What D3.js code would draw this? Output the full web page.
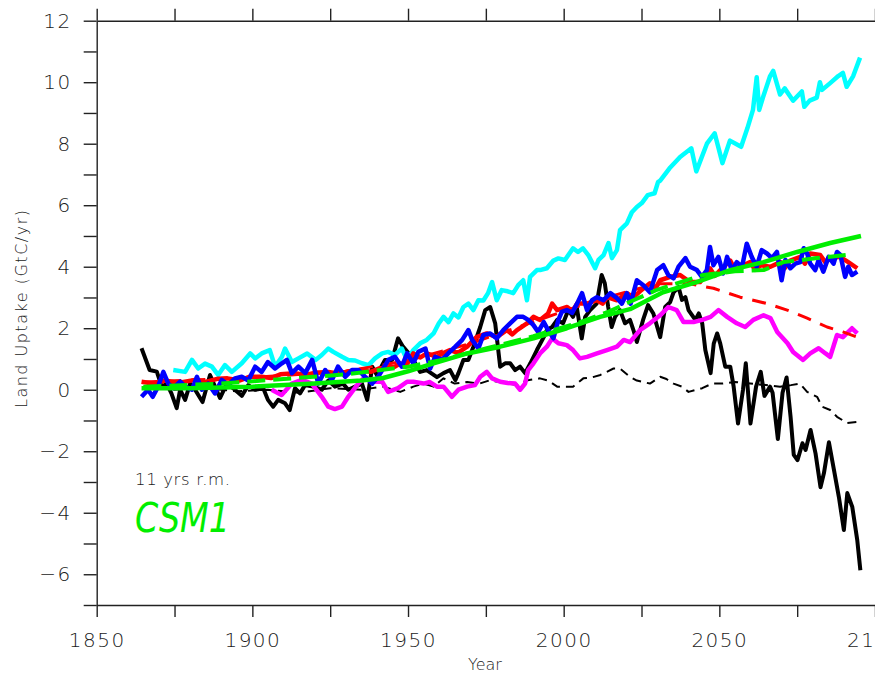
<!DOCTYPE html>
<html>
<head>
<meta charset="utf-8">
<script src="https://cdn.jsdelivr.net/npm/d3@7"></script>
<style>
  body { margin: 0; background: #fff; overflow: hidden; }
  svg { display: block; }
  text { font-family: "DejaVu Sans", sans-serif; fill: #1a1a1a; }
</style>
</head>
<body>
<svg id="the-svg" width="875" height="673"></svg>
<script>
// tick values
var yearTicks = d3.range(1850, 2101, 25);
var uptakeTicks = d3.range(-7, 13, 1);

// series, [year, GtC/yr]
var blackRun = [[1864.4,1.35],[1867,0.64],[1869.3,0.59],[1870.9,0.1],[1872.5,0.2],[1874,-0.12],[1875.7,-0.6],[1876.8,0],[1878.4,-0.33],[1880,0.2],[1881.6,0],[1884,-0.4],[1886.4,0.48],[1888,0.1],[1889.6,-0.27],[1891.8,0.2],[1894.4,0],[1896.6,-0.2],[1898.7,0.15],[1900.9,0],[1903.5,0.05],[1905,-0.33],[1906.7,-0.55],[1908.3,-0.33],[1910.5,-0.44],[1912,-0.66],[1913.7,0.05],[1915.3,-0.12],[1916.9,0.15],[1919.5,0.1],[1922.3,0],[1924.4,0.3],[1926.5,0.1],[1929.1,0.2],[1930.8,0],[1933,0.1],[1935.2,0.2],[1936.9,-0.33],[1938.5,0.75],[1940,0.48],[1942.6,0.97],[1944.9,0.97],[1946.8,1.67],[1948.4,1.4],[1950.7,1.13],[1951.7,0.97],[1953.9,0.58],[1956,0.64],[1959.3,0.41],[1961.4,0.54],[1963.5,0.64],[1965.2,0.31],[1966.2,0.54],[1967.8,0.97],[1969.4,0.97],[1971,1.4],[1973.2,2.04],[1974.8,2.59],[1976.4,2.69],[1978,2.16],[1979.6,0.75],[1981.2,0.86],[1982.8,0.86],[1984.4,0.64],[1986,0.75],[1987.6,0.54],[1989.3,0.86],[1991.4,1.29],[1993.6,1.71],[1994.6,1.94],[1996.3,2.04],[1997.9,2.27],[1999.8,2.16],[2001.5,2.59],[2003,2.37],[2004.2,2.69],[2005.8,1.67],[2006.9,2.37],[2008.5,2.59],[2010.6,2.8],[2012.2,3.73],[2013.2,3.46],[2014.3,2.69],[2015.4,2.04],[2016.5,2.37],[2018.1,2.59],[2019.7,2.16],[2021.3,2.27],[2022.4,1.94],[2023.5,1.55],[2025.5,2.27],[2027.1,2.75],[2028.8,2.48],[2031,1.71],[2032.6,2.69],[2034.2,2.85],[2035.3,3.17],[2036.9,3.34],[2038,2.92],[2039.1,3.01],[2040.1,2.59],[2042.3,2.27],[2043.4,2.48],[2044.5,2.16],[2045.5,1.29],[2047.2,0.54],[2048.2,1.5],[2049.3,1.83],[2050.3,1.5],[2051.9,0.75],[2053.5,0.75],[2054.6,0.1],[2056,-1.1],[2057.6,0],[2058.5,0.86],[2060,-1.1],[2061.8,0.1],[2063.3,0.58],[2064.5,-0.2],[2066.3,0.1],[2067.1,-0.1],[2068.8,-1.6],[2070.3,-0.1],[2071.6,0.4],[2072.9,-0.9],[2073.9,-2.12],[2075.1,-2.29],[2076.7,-1.74],[2077.7,-1.96],[2079.3,-1.31],[2080.9,-2.07],[2082.5,-3.17],[2083.6,-2.71],[2085.2,-1.71],[2086.8,-2.6],[2088.4,-3.49],[2090,-4.56],[2091.1,-3.36],[2092.7,-3.81],[2094.3,-4.89],[2095.3,-5.87]];

var blackDash = [[1865,0.1],[1875,0],[1885,0.05],[1895,-0.05],[1905,0],[1915,-0.1],[1925,0.05],[1935,0],[1942,0.1],[1947.5,-0.07],[1951.7,0.1],[1955,0.2],[1958.2,0.1],[1961.4,0.37],[1965,0.2],[1969,0.25],[1973,0.2],[1976,0.3],[1979.6,0.25],[1985,0.15],[1988,0.3],[1992.4,0.37],[1995,0.3],[1997.9,0.1],[2003,0.1],[2006.3,0.37],[2009,0.4],[2011.8,0.48],[2016,0.69],[2018.1,0.69],[2021.3,0.42],[2023.5,0.3],[2027.7,0.2],[2031,0.42],[2033,0.35],[2035.3,0.2],[2038,0.1],[2040.1,-0.07],[2044.5,0.05],[2047.7,0.2],[2051.2,0.2],[2055,0.25],[2060,0.2],[2065,0.15],[2069.5,0.1],[2073,0.15],[2075.9,0.2],[2078.2,-0.07],[2081.4,-0.23],[2083,-0.55],[2085.6,-0.66],[2087.8,-0.88],[2091,-1.08],[2094.3,-1.05]];

var cyanRun = [[1874.6,0.64],[1878.4,0.58],[1880.6,0.97],[1882.6,0.69],[1884.8,0.85],[1887,0.75],[1889,0.48],[1891.2,0.8],[1893.4,0.58],[1896.6,0.86],[1899.3,1.18],[1900.9,1.02],[1903,1.18],[1905.6,1.29],[1907.3,0.75],[1909.5,1.07],[1910.5,1.34],[1912.7,0.9],[1914.8,1.02],[1917.6,1.18],[1920.3,0.97],[1922.3,1.13],[1924.4,1.34],[1926,1.23],[1928.8,1.07],[1930.8,0.97],[1933,0.95],[1935.2,0.86],[1937.3,0.8],[1939.4,1.02],[1941.7,1.18],[1943.6,1.23],[1945.8,1.13],[1948,1.34],[1949.7,0.97],[1951.7,1.29],[1953.9,1.51],[1956,1.62],[1958.2,1.83],[1959.9,2.16],[1961.4,2.37],[1963,2.2],[1964.6,2.48],[1966.2,2.35],[1967.8,2.69],[1969.4,2.8],[1971,2.59],[1972.6,2.91],[1974.2,2.9],[1975.7,3.14],[1977,3.5],[1978.5,2.91],[1980.1,3.24],[1982,3.2],[1983.8,3.14],[1985.4,3.4],[1987,3.56],[1988.2,2.91],[1989.2,3.67],[1991.4,3.89],[1992.4,3.89],[1994.6,3.95],[1996.7,4.2],[1998.3,4.27],[2000.4,4.22],[2003,4.6],[2004.6,4.48],[2006.2,4.6],[2007.9,4.38],[2010.1,3.95],[2011.2,4.22],[2012.8,4.38],[2014.4,4.77],[2015.5,4.28],[2017.1,4.54],[2018.1,5.19],[2020.3,5.41],[2021.9,5.77],[2023.5,5.94],[2025.1,6.07],[2027,6.33],[2029.2,6.39],[2030.3,6.75],[2031,6.8],[2034,7.2],[2037.4,7.57],[2041,7.85],[2042.6,7.1],[2046,8.0],[2048.5,8.34],[2051,7.37],[2053.4,8.1],[2057,7.9],[2059,8.5],[2060.8,9.1],[2062,10.16],[2062.8,9.1],[2064,9.5],[2066.3,10.2],[2067.3,10.37],[2069.5,9.6],[2071,9.8],[2073.7,9.4],[2076.5,9.7],[2077.3,9.2],[2079,9.4],[2081.3,9.5],[2082.3,10.0],[2083,9.75],[2085.6,9.97],[2088.2,10.2],[2089.7,10.3],[2090.9,9.85],[2093,10.2],[2095.2,10.8]];

var magentaRun = [[1906.2,0],[1909.4,-0.17],[1912.7,0.2],[1915.9,0.32],[1919.1,0.2],[1922.3,-0.23],[1924.4,-0.55],[1926.5,-0.63],[1928.8,-0.55],[1930.8,-0.23],[1934,0.2],[1936.2,0.42],[1938.5,0.26],[1941.7,0.26],[1943.6,-0.07],[1946.8,0.05],[1949.7,0.26],[1951.7,0.26],[1955,0.2],[1957,0.25],[1959.3,0.1],[1961.4,0.1],[1964.1,-0.23],[1966.2,0],[1969,0.1],[1971.5,0.15],[1973.2,0.42],[1975.3,0.58],[1977,0.37],[1979.6,0.26],[1982,0.22],[1984.4,0.2],[1986,0],[1987.6,0.2],[1988.6,0.64],[1990.3,0.86],[1992.4,1.18],[1994.6,1.4],[1996.3,1.67],[1998.3,1.51],[2001,1.45],[2003,1.29],[2005.2,1.02],[2007.5,1.07],[2010.7,1.18],[2013.9,1.29],[2017.1,1.4],[2019.3,1.62],[2021.3,1.55],[2024.5,1.94],[2027.7,2.16],[2031,2.42],[2033.6,2.69],[2036.3,2.59],[2038.5,2.2],[2041.7,2.2],[2044.5,2.27],[2047.2,2.37],[2049.7,2.59],[2052.5,2.37],[2055.6,2.16],[2058.3,2.04],[2060.9,2.27],[2064.2,2.42],[2066.4,2.33],[2068.6,1.88],[2071.9,1.51],[2073.7,1.23],[2076.9,0.97],[2079.2,1.18],[2081.9,1.35],[2084.1,1.18],[2085.6,1.07],[2087.8,1.78],[2089.7,1.71],[2092.6,2.0],[2094.3,1.83]];

var redRun = [[1864.4,0.26],[1868,0.2],[1872,0.3],[1876,0.22],[1881.6,0.32],[1885,0.25],[1889,0.36],[1892,0.37],[1896,0.3],[1899,0.42],[1903,0.42],[1906,0.38],[1909,0.5],[1913.7,0.54],[1917,0.48],[1920,0.55],[1924.4,0.58],[1928,0.52],[1931,0.6],[1935,0.64],[1938,0.58],[1941,0.7],[1945.8,0.75],[1947.5,0.86],[1949.5,0.8],[1951.7,1.18],[1954,1.05],[1956,1.18],[1959.3,1.07],[1961.5,1.2],[1963.5,1.29],[1966,1.2],[1969,1.4],[1972,1.71],[1975.3,1.83],[1978.5,1.71],[1981.7,1.94],[1983.5,1.8],[1985,1.94],[1988.2,2.16],[1990.3,2.37],[1992.4,2.27],[1995,2.48],[1996.3,2.8],[1997.9,2.59],[2001.1,2.69],[2002.8,2.55],[2004.3,2.8],[2007.5,2.8],[2010.7,2.91],[2012.5,2.8],[2013.9,3.01],[2017.1,2.91],[2020.3,3.14],[2022.4,3.0],[2024.5,3.2],[2027.7,3.46],[2029.5,3.3],[2031,3.56],[2034.2,3.67],[2037.4,3.73],[2040.6,3.5],[2043.8,3.5],[2047,3.95],[2048.5,3.7],[2050.3,3.89],[2053.5,4.2],[2055,3.9],[2056.7,4.0],[2059.9,4.15],[2061.5,3.9],[2063.2,4.05],[2066.4,4.0],[2069.6,4.15],[2071,3.95],[2072.8,4.2],[2076,4.32],[2077.5,4.1],[2079.2,4.43],[2082.4,4.38],[2084,4.15],[2085.6,4.28],[2088.8,4.32],[2091.4,4.15],[2094.3,3.95]];

var redDash = [[1865,0.25],[1900,0.4],[1930,0.6],[1950,0.95],[1970,1.5],[1990,2.2],[2010,2.9],[2030,3.45],[2040,3.45],[2048.1,3.3],[2056.7,3.01],[2065.4,2.8],[2071.8,2.59],[2078.2,2.33],[2084.6,2.04],[2089.7,1.88],[2094.3,1.71]];

var blueRun = [[1864.4,-0.23],[1866.5,0],[1868,-0.23],[1869.7,0.1],[1871.4,0.58],[1873,0.2],[1874.6,0.05],[1876.8,0.26],[1878.5,0.1],[1880.6,0],[1882.2,0.42],[1883.8,0],[1885.8,0.2],[1888,-0.12],[1890.2,0.32],[1892.3,0.15],[1894.4,0.37],[1896.6,0.42],[1898.7,0.3],[1900.9,0.75],[1903,0.58],[1905,0.9],[1907.3,0.69],[1909.5,0.86],[1911.1,0.97],[1912.7,0.54],[1914.8,0.75],[1917,0.54],[1919.2,0.97],[1921.2,0.2],[1923.4,0.64],[1925.6,0.32],[1927.5,0.75],[1929.8,0.42],[1932,0.64],[1934.1,0.64],[1936.2,0.42],[1938.5,0.2],[1940.4,0.42],[1943.7,0.97],[1945.8,1.07],[1948,0.75],[1949.7,1.18],[1951.7,0.86],[1953.3,1.23],[1955.6,1.34],[1957.1,0.69],[1958.7,1.07],[1960.9,0.97],[1962.9,1.18],[1965.2,1.4],[1967.4,1.62],[1969.4,1.94],[1970.6,1.62],[1972.6,1.34],[1974.2,1.78],[1976.4,1.83],[1978.5,1.67],[1980.6,1.94],[1982.8,2.16],[1985,2.37],[1987,2.37],[1988.6,2.27],[1990.3,2.1],[1991.8,1.88],[1993.6,2.2],[1995,1.94],[1996.7,1.67],[1998.3,2.27],[1999.4,2.53],[2001,2.59],[2002.7,2.5],[2004.3,2.8],[2005.9,3.14],[2007.5,2.59],[2009.1,2.91],[2010.7,3.01],[2012.8,2.91],[2015,3.14],[2017.1,2.98],[2018.7,2.8],[2020.3,3.14],[2021.5,2.8],[2023.5,3.56],[2025.6,3.4],[2027.7,3.17],[2030,3.89],[2032,4.05],[2033.6,3.73],[2035.3,3.62],[2036.9,4.0],[2039.1,4.28],[2040.6,4.0],[2042.8,3.89],[2044.4,3.67],[2046,3.89],[2047,4.64],[2048.1,4.05],[2049.7,4.32],[2051.2,3.78],[2052.5,4.32],[2054,3.89],[2055.6,4.15],[2057.3,4.0],[2058.8,4.75],[2060.4,4.32],[2062,4.0],[2063.6,4.54],[2065.3,4.43],[2066.9,4.28],[2068.5,4.48],[2070,3.56],[2071.2,4.22],[2072.8,3.95],[2074.4,4.1],[2076,4.15],[2077.1,4.6],[2078.2,4.43],[2079.2,4.1],[2080.8,3.89],[2081.9,4.22],[2083.4,3.84],[2085.1,4.32],[2086.7,4.1],[2087.8,4.48],[2088.9,4.38],[2090.4,3.67],[2091.4,4.0],[2092.6,3.73],[2094.3,3.84]];

var greenRun = [[1864.4,0.05],[1880,0.05],[1900,0.1],[1920,0.2],[1935,0.3],[1942,0.38],[1950,0.6],[1958.2,0.86],[1969,1.18],[1979.6,1.4],[1990.3,1.67],[2001,2.0],[2011.7,2.37],[2021.3,2.62],[2031.9,3.17],[2042.7,3.5],[2053.5,3.89],[2064.2,4.15],[2075,4.48],[2085.6,4.77],[2095.5,5.0]];

var greenDash = [[1865,0.1],[1890,0.2],[1910,0.35],[1930,0.5],[1950,0.75],[1960,0.95],[1975.3,1.35],[1990.3,1.74],[1996.7,1.94],[2004.3,2.16],[2014,2.52],[2022.4,2.91],[2030,3.25],[2044.8,3.73],[2055,3.85],[2064.2,3.89],[2070.6,4.15],[2081.4,4.28],[2092,4.4]];

var svg = d3.select("#the-svg");

var x = d3.scaleLinear().domain([1850, 2100]).range([96.7, 875]);
var y = d3.scaleLinear().domain([-7, 12]).range([605, 20.7]);

var styleAxis = function(g) {
    g.selectAll("path, line").attr("stroke", "#222").attr("stroke-width", 1.4);
    g.selectAll("text").attr("fill", "#1a1a1a").attr("font-family", "DejaVu Sans")
        .attr("font-weight", 200).attr("letter-spacing", "1.5px");
};

svg.append("g")
    .attr("transform", "translate(0,605)")
    .call(d3.axisBottom(x).tickValues(yearTicks).tickSize(12).tickSizeOuter(0).tickPadding(16)
        .tickFormat(function(d) { return d % 50 == 0 ? d : ""; }))
    .call(styleAxis)
    .selectAll("text").attr("font-size", 20);

svg.append("g")
    .attr("transform", "translate(0,20.7)")
    .call(d3.axisTop(x).tickValues(yearTicks).tickSize(12).tickSizeOuter(0).tickFormat(""))
    .call(styleAxis);

svg.append("g")
    .attr("transform", "translate(96.7,0)")
    .call(d3.axisLeft(y).tickValues(uptakeTicks).tickSize(13).tickSizeOuter(0).tickPadding(12)
        .tickFormat(function(d) { return d % 2 == 0 ? d3.format("d")(d) : ""; }))
    .call(styleAxis)
    .selectAll("text").attr("font-size", 20);

var line = d3.line()
    .x(function(d) { return x(d[0]); })
    .y(function(d) { return y(d[1]); });

var series = [
    { data: blackDash, color: "#000", width: 2, dash: "9,6" },
    { data: blackRun, color: "#000", width: 4 },
    { data: magentaRun, color: "#ff00ff", width: 4.5 },
    { data: cyanRun, color: "#00ffff", width: 4.5 },
    { data: redDash, color: "#ff0000", width: 3, dash: "14,10" },
    { data: redRun, color: "#ff0000", width: 4.5 },
    { data: blueRun, color: "#0000ff", width: 4.5 },
    { data: greenRun, color: "#00ee00", width: 4.5 },
    { data: greenDash, color: "#00ee00", width: 4, dash: "18,8" }
];

svg.selectAll(".series").data(series)
    .enter().append("path")
        .attr("class", "series")
        .attr("fill", "none")
        .attr("stroke", function(d) { return d.color; })
        .attr("stroke-width", function(d) { return d.width; })
        .attr("stroke-dasharray", function(d) { return d.dash || null; })
        .attr("stroke-linejoin", "round")
        .attr("d", function(d) { return line(d.data); });

svg.append("text")
    .attr("x", 485).attr("y", 670)
    .attr("text-anchor", "middle")
    .attr("font-size", 16).attr("font-weight", 200)
    .text("Year");

svg.append("text")
    .attr("transform", "translate(27,309) rotate(-90)")
    .attr("text-anchor", "middle")
    .attr("font-size", 16).attr("font-weight", 200)
    .attr("textLength", 198).attr("lengthAdjust", "spacing")
    .text("Land Uptake (GtC/yr)");

svg.append("text")
    .attr("x", 135).attr("y", 485)
    .attr("font-size", 16.5).attr("font-weight", 200)
    .attr("textLength", 95).attr("lengthAdjust", "spacing")
    .text("11 yrs r.m.");

svg.append("text")
    .attr("x", 135).attr("y", 532)
    .attr("font-size", 41).attr("font-style", "oblique")
    .attr("textLength", 95).attr("lengthAdjust", "spacingAndGlyphs")
    .style("fill", "#00ee00")
    .text("CSM1");
</script>
</body>
</html>
